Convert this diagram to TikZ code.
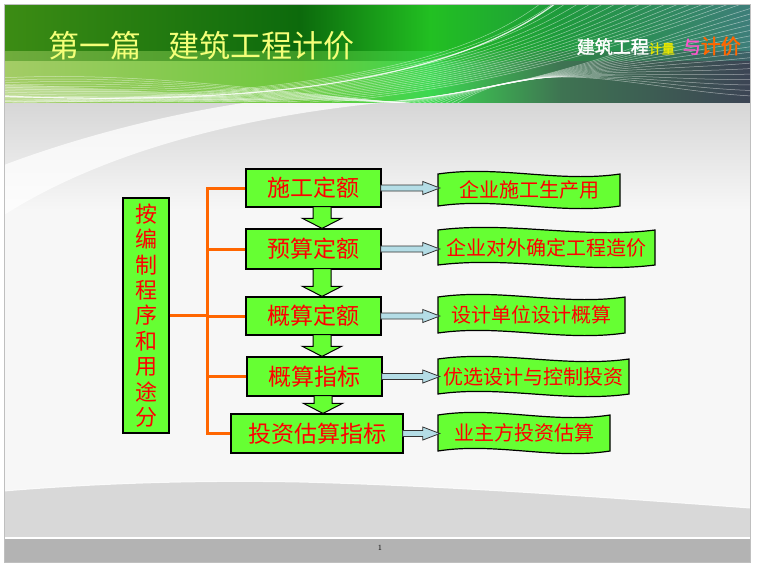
\documentclass[tikz,border=0pt]{standalone}
\usepackage{fontspec}
\newfontfamily\cjk{Noto Sans CJK SC}
\newfontfamily\cjkbold[FakeBold=2]{Noto Sans CJK SC}
\usetikzlibrary{calc}
\definecolor{boxgreen}{HTML}{66FF33}
\definecolor{txtred}{HTML}{FF0000}
\definecolor{conorange}{HTML}{FF6600}
\definecolor{arrblue}{HTML}{B4DDE6}
\definecolor{arredge}{HTML}{333333}
\definecolor{titleyellow}{HTML}{F4FF78}
\definecolor{bgtop}{HTML}{D6D6D6}
\definecolor{bgmid}{HTML}{F7F7F7}
\definecolor{hill}{HTML}{D8D8D8}
\definecolor{footgray}{HTML}{B3B3B3}
\definecolor{bu1}{HTML}{3C8C14}
\definecolor{bu2}{HTML}{0C6A0C}
\definecolor{bu3}{HTML}{22C022}
\definecolor{bu4}{HTML}{1E9A3C}
\definecolor{bu5}{HTML}{3E7E7A}
\definecolor{bl1}{HTML}{A4CC66}
\definecolor{bl2}{HTML}{6CC83C}
\definecolor{bl3}{HTML}{3CD850}
\definecolor{bl4}{HTML}{3E7452}
\definecolor{bl5}{HTML}{3C4454}
\colorlet{bm1}{bl1!50!bu1}
\colorlet{bm2}{bl2!50!bu2}
\colorlet{bm3}{bl3!50!bu3}
\colorlet{bm4}{bl4!50!bu4}
\colorlet{bm5}{bl5!50!bu5}
\definecolor{smallyellow}{HTML}{E6E600}
\definecolor{pinkish}{HTML}{FF55CC}
\tikzset{
  mbox/.style={draw=black, line width=1.2pt, fill=boxgreen, text=txtred,
    font=\cjk\fontsize{23}{23}\selectfont, minimum height=38pt, inner sep=0pt},
  lbox/.style={draw=black, line width=1.2pt, fill=boxgreen, text=txtred, align=center,
    font=\cjk\fontsize{22}{25.4}\selectfont, minimum width=46pt, minimum height=235pt, inner sep=0pt},
  wavestyle/.style={draw=black, line width=1.2pt, fill=boxgreen},
  wtext/.style={text=txtred, font=\cjk\fontsize{20}{20}\selectfont, inner sep=0pt},
  conn/.style={draw=conorange, line width=3pt, line join=miter},
  rarrow/.style={draw=arredge, line width=0.8pt, fill=arrblue, line join=miter},
  darrow/.style={draw=black, line width=1pt, fill=boxgreen, line join=miter},
  meshline/.style={draw=white, line width=0.5pt, draw opacity=0.5}
}
\newcommand\wavebox[6]{%
  \draw[wavestyle] (#2,{#3+2}) .. controls ({#2+(#4-#2)/3},{#3-7}) and ({#2+2*(#4-#2)/3},{#3+11}) .. (#4,{#3+2})
    -- (#4,{#5-2}) .. controls ({#2+2*(#4-#2)/3},{#5+7}) and ({#2+(#4-#2)/3},{#5-11}) .. (#2,{#5-2}) -- cycle;
  \node[wtext, minimum width={(#4-#2)*1pt}, minimum height={(#5-#3)*1pt}] (#1) at ({(#2+#4)/2},{(#3+#5)/2}) {#6};
}
\newcommand\rarr[2]{%
  \draw[rarrow] let \p1=(#1.east), \p2=(#2.west) in
    (\x1-1pt,\y1+3pt) -- (\x2-15pt,\y1+3pt) -- (\x2-15pt,\y1+6.5pt) -- (\x2+2pt,\y1)
    -- (\x2-15pt,\y1-6.5pt) -- (\x2-15pt,\y1-3pt) -- (\x1-1pt,\y1-3pt) -- cycle;
}
\newcommand\darr[2]{%
  \draw[darrow] let \p1=(#1.south), \p2=(#2.north) in
    (\x1-0.5pt,\y1+1pt) -- (\x1-0.5pt,\y2+10pt) -- (\x1-11pt,\y2+10pt) -- (\x1+8.5pt,\y2)
    -- (\x1+28pt,\y2+10pt) -- (\x1+17.5pt,\y2+10pt) -- (\x1+17.5pt,\y1+1pt) -- cycle;
}
\begin{document}
\begin{tikzpicture}[x=1pt,y=-1pt]
\useasboundingbox (0,0) rectangle (760,566);
\fill[white] (0,0) rectangle (760,566);
% body background
\fill[bgmid] (4,102) rectangle (750,538);
\shade[top color=bgtop, bottom color=bgmid] (4,102) rectangle (750,210);
\fill[white, fill opacity=0.75] (4,215) .. controls (90,160) and (220,118) .. (390,102) -- (250,102) .. controls (160,115) and (70,140) .. (4,165) -- cycle;
\fill[hill] (4,491) .. controls (100,483) and (200,480) .. (300,482) .. controls (450,486) and (600,497) .. (750,508) -- (750,537) -- (4,537) -- cycle;
\draw[white, line width=1pt, draw opacity=0.8] (4,491) .. controls (100,483) and (200,480) .. (300,482) .. controls (450,486) and (600,497) .. (750,508);
% footer
\fill[footgray] (4,539) rectangle (750,562);
\draw[white, line width=1.2pt] (4,537.5) -- (750,537.5);
\node[inner sep=0pt, font=\fontsize{8}{8}\selectfont] (pg) at (380,548) {1};
% banner
\begin{scope}
\clip (4,4) rectangle (750,102);
\shade[left color=bu1, right color=bu2] (4,4) rectangle (301,52);
\shade[left color=bu2, right color=bu3] (300,4) rectangle (431,52);
\shade[left color=bu3, right color=bu4] (430,4) rectangle (561,52);
\shade[left color=bu4, right color=bu5] (560,4) rectangle (750,52);
\shade[left color=bm1, right color=bm2] (4,51) rectangle (301,62);
\shade[left color=bm2, right color=bm3] (300,51) rectangle (431,62);
\shade[left color=bm3, right color=bm4] (430,51) rectangle (561,62);
\shade[left color=bm4, right color=bm5] (560,51) rectangle (750,62);
\shade[left color=bl1, right color=bl2] (4,61) rectangle (301,102);
\shade[left color=bl2, right color=bl3] (300,61) rectangle (431,102);
\shade[left color=bl3, right color=bl4] (430,61) rectangle (561,102);
\shade[left color=bl4, right color=bl5] (560,61) rectangle (750,102);
\fill[white, fill opacity=0.3] (4,84) .. controls (100,88) and (200,94) .. (300,102) -- (4,102) -- cycle;
\foreach \k in {0,...,16} {
  \draw[meshline] ({-20+\k*22},102) .. controls ({330+\k*9},{96-\k*0.5}) and ({470+\k*7},60) .. ({545+\k*13},0);
}
\foreach \k in {0,...,16} {
  \draw[meshline] ({360+\k*6},104) .. controls (540,{92-\k*2.5}) and (640,{42+\k*3}) .. (752,{8+\k*5.5});
}
\foreach \k in {0,...,10} {
  \draw[meshline] (0,{78+\k*2.5}) .. controls (150,{70+\k*3}) and (300,{96}) .. (420,{104});
}
\draw[white, line width=1.2pt, draw opacity=0.85] (0,96) .. controls (300,108) and (470,70) .. (560,0);
\end{scope}
\draw[gray!50, line width=0.5pt] (4,4) rectangle (750,562);
% banner texts
\node[anchor=west, inner sep=0pt, text=titleyellow, font=\cjk\fontsize{31}{31}\selectfont] (title) at (48,46) {第一篇\hspace{27pt}建筑工程计价};
\node[anchor=east, inner sep=0pt, font=\cjkbold\fontsize{18}{18}\selectfont] (brand) at (741,46)
  {\textcolor{white}{建筑工程}{\fontsize{13}{13}\selectfont\textcolor{smallyellow}{计量}}\hspace{8pt}\textcolor{pinkish}{与}{\fontsize{20}{20}\selectfont\textcolor{conorange}{计价}}};
% main nodes
\node[lbox] (L) at (146,315.5) {按\\编\\制\\程\\序\\和\\用\\途\\分};
\node[mbox, minimum width=135pt] (m1) at (313.5,188) {施工定额};
\node[mbox, minimum width=135pt, minimum height=40pt] (m2) at (313.5,249) {预算定额};
\node[mbox, minimum width=135pt] (m3) at (313.5,316) {概算定额};
\node[mbox, minimum width=135pt, minimum height=39pt] (m4) at (314.5,376.5) {概算指标};
\node[mbox, minimum width=172pt, minimum height=39pt] (m5) at (317,433.5) {投资估算指标};
% down arrows
\darr{m1}{m2}
\darr{m2}{m3}
\darr{m3}{m4}
\darr{m4}{m5}
% wave boxes
\wavebox{r1}{438}{172}{620}{208}{企业施工生产用}
\wavebox{r2}{438}{228}{655}{267}{企业对外确定工程造价}
\wavebox{r3}{438}{295}{625}{335}{设计单位设计概算}
\wavebox{r4}{438}{357}{629}{396}{优选设计与控制投资}
\wavebox{r5}{438}{413}{610}{453}{业主方投资估算}
% right arrows
\rarr{m1}{r1}
\rarr{m2}{r2}
\rarr{m3}{r3}
\rarr{m4}{r4}
\rarr{m5}{r5}
% orange connectors
\coordinate (trunk) at (207,0);
\draw[conn] (m1.west) -- (m1.west -| trunk) -- (m5.west -| trunk) -- (m5.west);
\draw[conn] (m2.west) -- (m2.west -| trunk);
\draw[conn] (m3.west) -- (m3.west -| trunk);
\draw[conn] (m4.west) -- (m4.west -| trunk);
\draw[conn] (L.east) -- (L.east -| trunk);
\end{tikzpicture}
\end{document}
